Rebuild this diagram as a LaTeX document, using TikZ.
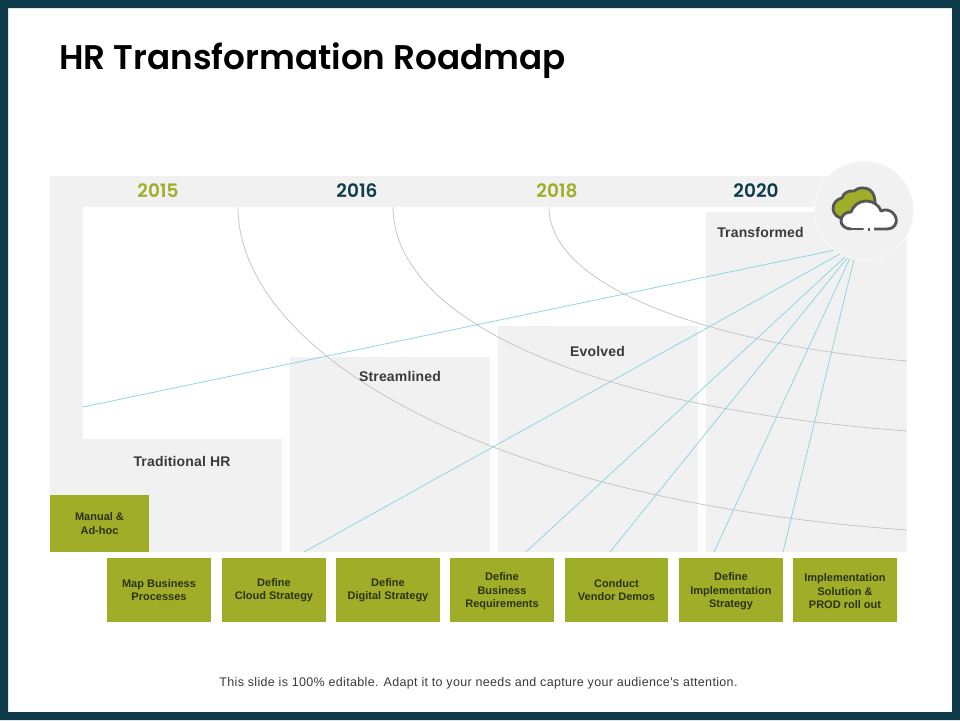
\documentclass[tikz,border=0pt]{standalone}
\usepackage{fontspec}
\setmainfont{Liberation Sans}
\newfontfamily\titlefont[WordSpace=1.9]{Poppins SemiBold}
\newfontfamily\yearfont{Poppins SemiBold}
\newfontfamily\stagefont[LetterSpace=1.2]{Liberation Sans}
\newfontfamily\footfont[LetterSpace=2.7]{Liberation Sans}
\definecolor{teal}{HTML}{0E3C4A}
\definecolor{olive}{HTML}{A0AD28}
\definecolor{panel}{HTML}{F1F1F1}
\definecolor{sky}{HTML}{8AD4E4}
\definecolor{arcgray}{HTML}{C4C4C4}
\definecolor{ink}{HTML}{3A3A3A}
\definecolor{boxink}{HTML}{2C3310}
\definecolor{iconline}{HTML}{565656}
\newcommand{\lowerline}{\rule{0pt}{10.4pt}}
\tikzset{
  panelfill/.style={fill=panel,draw=none},
  oliveBox/.style={fill=olive,draw=none,inner sep=0pt,align=center,text=boxink,font=\fontsize{11}{13.2}\selectfont\bfseries},
  stageLabel/.style={text=ink,font=\stagefont\fontsize{14}{16}\selectfont\bfseries,inner sep=0pt},
  yearLabel/.style={font=\yearfont\fontsize{18.5}{20}\selectfont,inner sep=0pt},
  skyLine/.style={draw=sky,line width=0.75pt},
  arcLine/.style={draw=arcgray,line width=0.75pt},
  iconStroke/.style={draw=iconline,line width=2.8pt,line join=round,line cap=round}
}
\begin{document}
\begin{tikzpicture}[x=1pt,y=-1pt]
\useasboundingbox (0,0) rectangle (960,720);
\fill[white] (0,0) rectangle (960,720);
% frame
\fill[teal,even odd rule] (0,0) rectangle (960,720) (8,8) rectangle (952,712);
% panels
\fill[panelfill] (50,176) rectangle (850,207);
\fill[panelfill] (50,176) rectangle (83,552);
\fill[panelfill] (50,439) rectangle (282,552);
\fill[panelfill] (290,357) rectangle (490,552);
\fill[panelfill] (498,326) rectangle (698,552);
\fill[panelfill] (706,212) rectangle (907,552);
% free line ends
\coordinate (a1s) at (238,207);\coordinate (a1e) at (907,530);
\coordinate (a2s) at (393,207);\coordinate (a2e) at (907,431);
\coordinate (a3s) at (549,207);\coordinate (a3e) at (907,361);
\draw[arcLine] (a1s) .. controls (238,350) and (480,500) .. (a1e);
\draw[arcLine] (a2s) .. controls (393,310) and (560,405) .. (a2e);
\draw[arcLine] (a3s) .. controls (549,290) and (720,345) .. (a3e);
\coordinate (h1) at (835,250);\coordinate (f1) at (83,407);
\coordinate (h2) at (840,254);\coordinate (f2) at (304,552);
\coordinate (h3) at (846,256);\coordinate (f3) at (526,552);
\coordinate (h4) at (848,257);\coordinate (f4) at (610,552);
\coordinate (h5) at (850,258);\coordinate (f5) at (714,552);
\coordinate (h6) at (854,259);\coordinate (f6) at (783,552);
\foreach \i in {1,...,6}{\draw[skyLine] (h\i) -- (f\i);}
% hub circle
\fill[white!60!panel] (864,210.5) circle (50);
\fill[panel] (864,210.5) circle (49);
% back cloud
\draw[iconStroke,fill=olive]
  (846,219) .. controls (838,219) and (833,214) .. (833,208.5)
  .. controls (833,203) and (837,199) .. (842,198)
  .. controls (843,193) and (849,190) .. (854,191)
  .. controls (858,187) and (866,187) .. (870,190)
  .. controls (874,193) and (875,198) .. (875,203)
  -- (860,212) -- cycle;
% front cloud
\draw[iconStroke,fill=white]
  (851,229) .. controls (845,229) and (841,225) .. (841,221)
  .. controls (841,215) and (846,212) .. (851,212)
  .. controls (853,206) and (859,201) .. (866,201)
  .. controls (873,201) and (879,205) .. (881,211)
  .. controls (885,209) and (890,210) .. (893,213)
  .. controls (897,217) and (897,222) .. (895,225)
  .. controls (893,228) and (890,229) .. (887,229)
  -- (874,229);
\draw[iconStroke] (851,229) -- (863,229);
\fill[white] (863.5,227) rectangle (873.5,231);
\fill[iconline] (867.5,228) rectangle (869.5,230.5);
% years
\node[yearLabel,text=olive] (y15) at (158,191) {2015};
\node[yearLabel,text=teal] (y16) at (357,191) {2016};
\node[yearLabel,text=olive] (y18) at (557,191) {2018};
\node[yearLabel,text=teal] (y20) at (756,191) {2020};
% stages
\node[stageLabel] (s1) at (182,461) {Traditional HR};
\node[stageLabel] (s2) at (400,376) {Streamlined};
\node[stageLabel] (s3) at (597.5,351) {Evolved};
\node[stageLabel] (s4) at (760.5,232) {Transformed};
% title
\node[anchor=base west,inner sep=0pt,text=black,font=\titlefont\fontsize{34.2}{38}\selectfont] (title) at (59,69) {HR Transformation Roadmap};
% olive boxes
\node[oliveBox,minimum width=99pt,minimum height=57pt] (b0) at (99.5,523.5) {Manual \&\\Ad-hoc};
\node[oliveBox,minimum width=104pt,minimum height=64pt] (b1) at (159,590) {Map Business\\Processes};
\node[oliveBox,minimum width=104pt,minimum height=64pt] (b2) at (274,590) {Define\\Cloud Strategy};
\node[oliveBox,minimum width=104pt,minimum height=64pt] (b3) at (388,590) {Define\\Digital Strategy};
\node[oliveBox,minimum width=104pt,minimum height=64pt] (b4) at (502,590) {\lowerline Define\\Business\\Requirements};
\node[oliveBox,minimum width=103pt,minimum height=64pt] (b5) at (616.5,590) {Conduct\\Vendor Demos};
\node[oliveBox,minimum width=104pt,minimum height=64pt] (b6) at (731,590) {\lowerline Define\\Implementation\\Strategy};
\node[oliveBox,minimum width=104pt,minimum height=64pt] (b7) at (845,590) {\lowerline Implementation\\Solution \&\\PROD roll out};
% footer
\node[inner sep=0pt,text=ink,font=\footfont\fontsize{12.5}{14}\selectfont] (foot) at (478.5,683.7) {This slide is 100\% editable. Adapt it to your needs and capture your audience's attention.};
\end{tikzpicture}
\end{document}
